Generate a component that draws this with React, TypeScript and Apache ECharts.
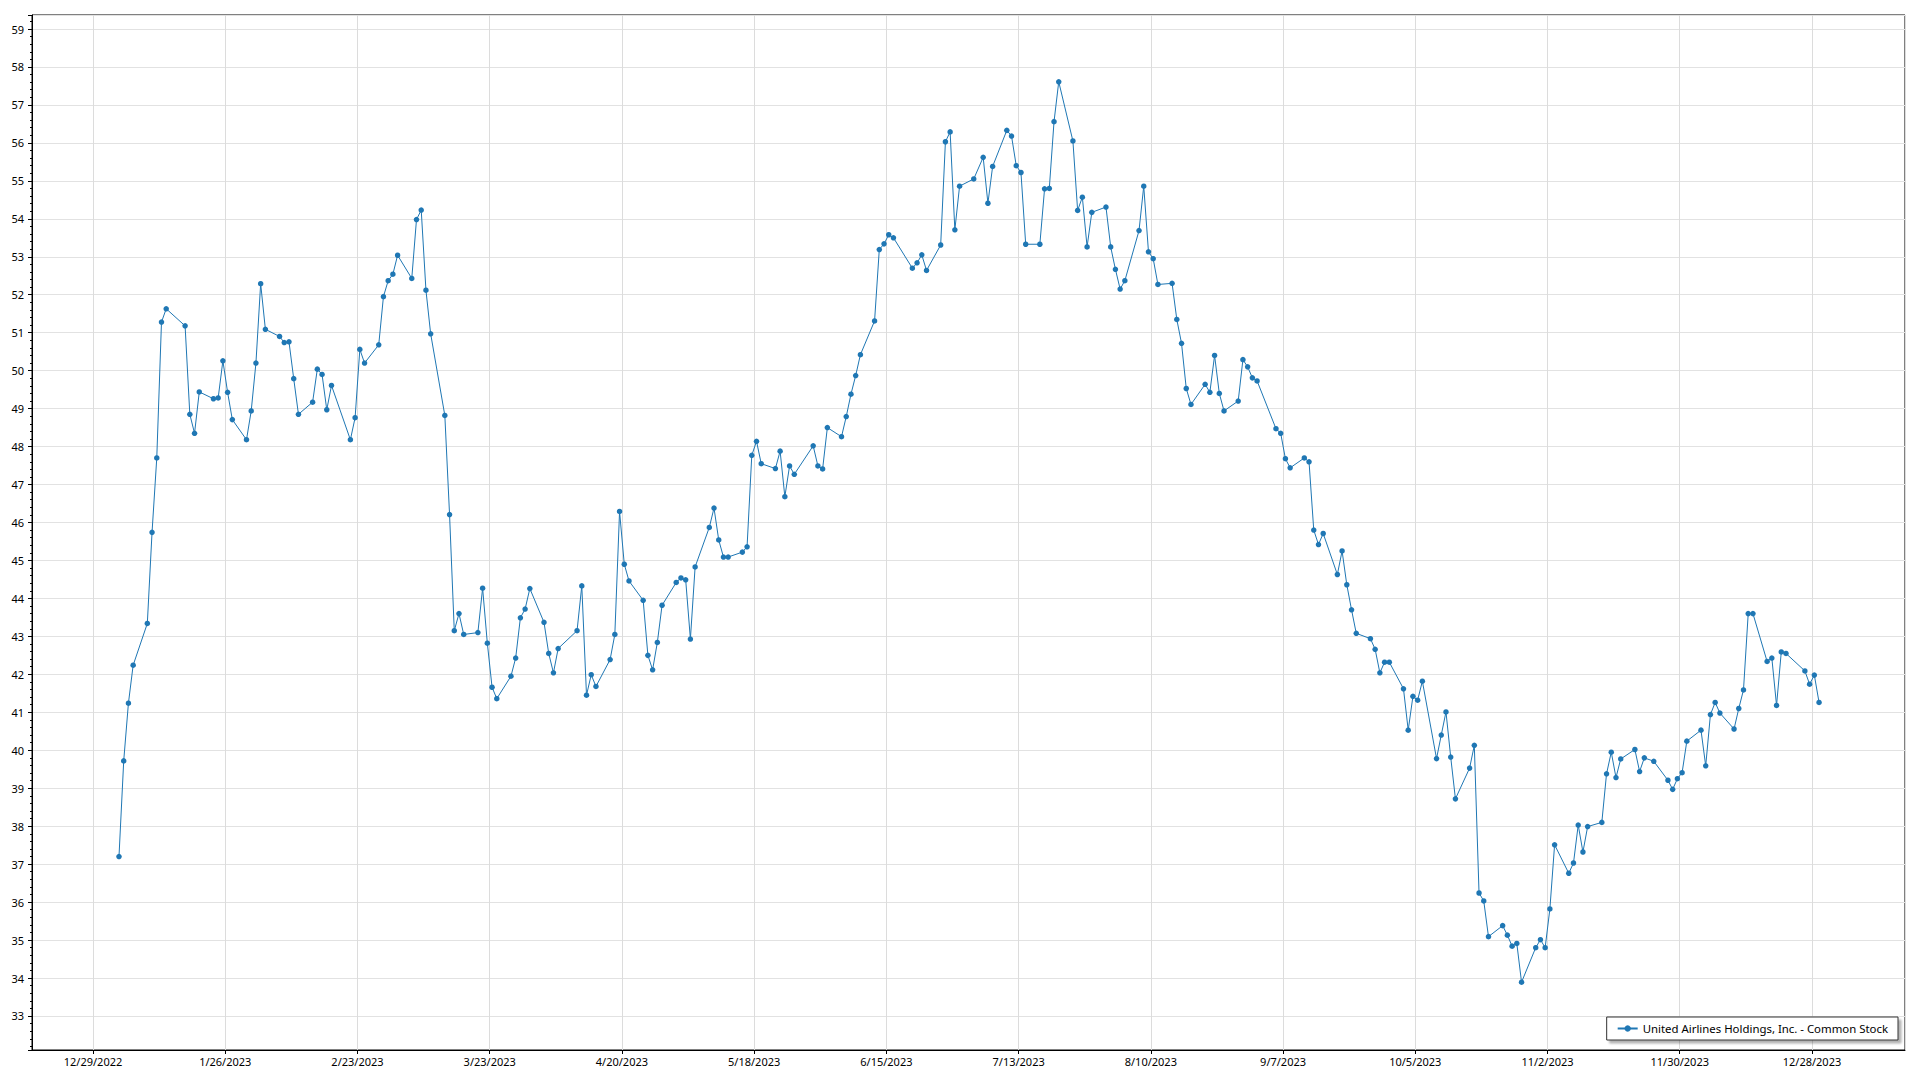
import React, { useEffect, useRef } from "react";
import * as echarts from "echarts";

const SERIES_NAME = "United Airlines Holdings, Inc. - Common Stock";
const YEAR = 2023;

// Tick labels of the date axis (one every 28 days, from 12/29/2022)
const X_TICK_LABELS = [
  "12/29/2022", "1/26/2023", "2/23/2023", "3/23/2023", "4/20/2023", "5/18/2023", "6/15/2023",
  "7/13/2023", "8/10/2023", "9/7/2023", "10/5/2023", "11/2/2023", "11/30/2023", "12/28/2023",
];

// Trading days of 2023, month by month
const DAYS_JAN = [3, 4, 5, 6, 9, 10, 11, 12, 13, 17, 18, 19, 20, 23, 24, 25, 26, 27, 30, 31];
const DAYS_FEB = [1, 2, 3, 6, 7, 8, 9, 10, 13, 14, 15, 16, 17, 21, 22, 23, 24, 27, 28];
const DAYS_MAR = [1, 2, 3, 6, 7, 8, 9, 10, 13, 14, 15, 16, 17, 20, 21, 22, 23, 24, 27, 28, 29, 30, 31];
const DAYS_APR = [3, 4, 5, 6, 10, 11, 12, 13, 14, 17, 18, 19, 20, 21, 24, 25, 26, 27, 28];
const DAYS_MAY = [1, 2, 3, 4, 5, 8, 9, 10, 11, 12, 15, 16, 17, 18, 19, 22, 23, 24, 25, 26, 30, 31];
const DAYS_JUN = [1, 2, 5, 6, 7, 8, 9, 12, 13, 14, 15, 16, 20, 21, 22, 23, 26, 27, 28, 29, 30];
const DAYS_JUL = [3, 5, 6, 7, 10, 11, 12, 13, 14, 17, 18, 19, 20, 21, 24, 25, 26, 27, 28, 31];
const DAYS_AUG = [1, 2, 3, 4, 7, 8, 9, 10, 11, 14, 15, 16, 17, 18, 21, 22, 23, 24, 25, 28, 29, 30, 31];
const DAYS_SEP = [1, 5, 6, 7, 8, 11, 12, 13, 14, 15, 18, 19, 20, 21, 22, 25, 26, 27, 28, 29];
const DAYS_OCT = [2, 3, 4, 5, 6, 9, 10, 11, 12, 13, 16, 17, 18, 19, 20, 23, 24, 25, 26, 27, 30, 31];
const DAYS_NOV = [1, 2, 3, 6, 7, 8, 9, 10, 13, 14, 15, 16, 17, 20, 21, 22, 24, 27, 28, 29, 30];
const DAYS_DEC = [1, 4, 5, 6, 7, 8, 11, 12, 13, 14, 15, 18, 19, 20, 21, 22, 26, 27, 28, 29];

// Closing prices, month by month
const PRICES_JAN = [37.2, 39.72, 41.24, 42.24, 43.34, 45.74, 47.7, 51.28, 51.63, 51.18, 48.85, 48.35, 49.44, 49.26, 49.28, 50.26, 49.43, 48.71, 48.18, 48.94];
const PRICES_FEB = [50.2, 52.29, 51.09, 50.9, 50.74, 50.76, 49.79, 48.85, 49.17, 50.04, 49.9, 48.97, 49.61, 48.18, 48.76, 50.56, 50.2, 50.68, 51.95];
const PRICES_MAR = [52.37, 52.54, 53.04, 52.43, 53.98, 54.23, 52.12, 50.97, 48.82, 46.21, 43.15, 43.6, 43.05, 43.1, 44.27, 42.82, 41.66, 41.36, 41.95, 42.43, 43.49, 43.72, 44.26];
const PRICES_APR = [43.37, 42.55, 42.04, 42.68, 43.15, 44.33, 41.45, 41.99, 41.68, 42.39, 43.05, 46.29, 44.9, 44.46, 43.95, 42.5, 42.12, 42.84, 43.82];
const PRICES_MAY = [44.42, 44.54, 44.49, 42.93, 44.83, 45.87, 46.38, 45.54, 45.09, 45.09, 45.22, 45.36, 47.77, 48.14, 47.55, 47.42, 47.88, 46.68, 47.49, 47.27, 48.02, 47.49];
const PRICES_JUN = [47.41, 48.5, 48.26, 48.79, 49.38, 49.87, 50.42, 51.31, 53.19, 53.34, 53.58, 53.5, 52.7, 52.84, 53.05, 52.64, 53.31, 56.03, 56.29, 53.71, 54.86];
const PRICES_JUL = [55.05, 55.62, 54.41, 55.38, 56.33, 56.18, 55.4, 55.22, 53.33, 53.33, 54.79, 54.8, 56.56, 57.61, 56.05, 54.22, 54.57, 53.26, 54.17, 54.31];
const PRICES_AUG = [53.26, 52.67, 52.15, 52.37, 53.69, 54.86, 53.13, 52.95, 52.27, 52.3, 51.35, 50.72, 49.53, 49.11, 49.64, 49.43, 50.4, 49.4, 48.94, 49.2, 50.29, 50.1, 49.81];
const PRICES_SEP = [49.73, 48.47, 48.35, 47.68, 47.44, 47.7, 47.6, 45.8, 45.42, 45.71, 44.63, 45.25, 44.36, 43.7, 43.08, 42.94, 42.66, 42.04, 42.32, 42.32];
const PRICES_OCT = [41.62, 40.53, 41.42, 41.32, 41.82, 39.78, 40.4, 41.01, 39.82, 38.72, 39.53, 40.13, 36.24, 36.03, 35.09, 35.38, 35.13, 34.84, 34.91, 33.89, 34.8, 35.01];
const PRICES_NOV = [34.8, 35.82, 37.51, 36.76, 37.03, 38.03, 37.32, 37.99, 38.1, 39.38, 39.95, 39.28, 39.77, 40.02, 39.44, 39.8, 39.71, 39.21, 38.97, 39.25, 39.41];
const PRICES_DEC = [40.24, 40.53, 39.59, 40.94, 41.26, 40.98, 40.56, 41.1, 41.59, 43.6, 43.6, 42.34, 42.43, 41.18, 42.59, 42.55, 42.09, 41.74, 41.98, 41.26];

const MONTH_DAYS = [DAYS_JAN, DAYS_FEB, DAYS_MAR, DAYS_APR, DAYS_MAY, DAYS_JUN, DAYS_JUL, DAYS_AUG, DAYS_SEP, DAYS_OCT, DAYS_NOV, DAYS_DEC];
const MONTH_PRICES = [PRICES_JAN, PRICES_FEB, PRICES_MAR, PRICES_APR, PRICES_MAY, PRICES_JUN, PRICES_JUL, PRICES_AUG, PRICES_SEP, PRICES_OCT, PRICES_NOV, PRICES_DEC];

const DAY_MS = 86400000;
const ORIGIN = Date.UTC(2022, 11, 29); // first tick of the date axis
const TICK_STEP = 28;

function buildData(): [number, number][] {
  const out: [number, number][] = [];
  MONTH_DAYS.forEach((days, m) => {
    days.forEach((d, i) => {
      const x = (Date.UTC(YEAR, m, d, 12) - ORIGIN) / DAY_MS;
      out.push([x, MONTH_PRICES[m][i]]);
    });
  });
  return out;
}

const FONT = "Noto Sans";
const BLUE = "#1f77b4";

export default function App() {
  const ref = useRef<HTMLDivElement>(null);

  useEffect(() => {
    if (!ref.current) return;
    const chart = echarts.init(ref.current, undefined, { renderer: "svg" });
    const data = buildData();
    chart.setOption({
      animation: false,
      backgroundColor: "#fff",
      textStyle: { fontFamily: FONT },
      grid: {
        left: 32,
        right: 15,
        top: 15,
        bottom: 30,
        show: true,
        borderColor: "#000",
        borderWidth: 1,
        backgroundColor: "transparent",
      },
      xAxis: {
        type: "value",
        min: -12.92,
        max: 383.7,
        minInterval: TICK_STEP,
        maxInterval: TICK_STEP,
        splitNumber: 14,
        axisLine: { show: true, onZero: false, lineStyle: { color: "#000", width: 1 } },
        axisTick: { show: true, length: 4, lineStyle: { color: "#000" } },
        splitLine: { show: true, lineStyle: { color: "#dcdcdc", width: 1 } },
        axisLabel: {
          show: true,
          margin: 6,
          fontSize: 11,
          color: "#000",
          fontFamily: FONT,
          showMinLabel: false,
          showMaxLabel: false,
          formatter: (v: number) => {
            const idx = Math.round(v / TICK_STEP);
            if (Math.abs(v - idx * TICK_STEP) > 0.01) return "";
            return X_TICK_LABELS[idx] ?? "";
          },
        },
      },
      yAxis: {
        type: "value",
        min: 32.104,
        max: 59.369,
        minInterval: 1,
        maxInterval: 1,
        splitNumber: 27,
        axisLine: { show: true, onZero: false, lineStyle: { color: "#000", width: 1 } },
        axisTick: { show: true, length: 4, lineStyle: { color: "#000" } },
        minorTick: { show: true, splitNumber: 5, length: 2, lineStyle: { color: "#000" } },
        splitLine: { show: true, lineStyle: { color: "#e2e2e2", width: 1 } },
        axisLabel: {
          show: true,
          margin: 8,
          fontSize: 11,
          color: "#000",
          fontFamily: FONT,
          showMinLabel: false,
          showMaxLabel: false,
          formatter: (v: number) => (Math.abs(v - Math.round(v)) < 1e-6 ? String(Math.round(v)) : ""),
        },
      },
      legend: {
        show: true,
        right: 22,
        top: 1017,
        orient: "horizontal",
        padding: [6, 10],
        itemWidth: 20,
        itemHeight: 8,
        itemGap: 5,
        backgroundColor: "#fff",
        borderColor: "#333",
        borderWidth: 1,
        borderRadius: 0,
        shadowColor: "rgba(0,0,0,0.3)",
        shadowBlur: 2,
        shadowOffsetX: 3,
        shadowOffsetY: 3,
        textStyle: { fontSize: 11.4, color: "#000", fontFamily: FONT },
        data: [SERIES_NAME],
      },
      series: [
        {
          name: SERIES_NAME,
          type: "line",
          data,
          symbol: "circle",
          symbolSize: 5.5,
          showSymbol: true,
          showAllSymbol: true,
          lineStyle: { color: BLUE, width: 1 },
          itemStyle: { color: BLUE },
          emphasis: { disabled: true },
        },
      ],
    });
    return () => chart.dispose();
  }, []);

  return (
    <div
      ref={ref}
      style={{ position: "fixed", left: 0, top: 0, width: 1920, height: 1080, background: "#fff" }}
    />
  );
}
